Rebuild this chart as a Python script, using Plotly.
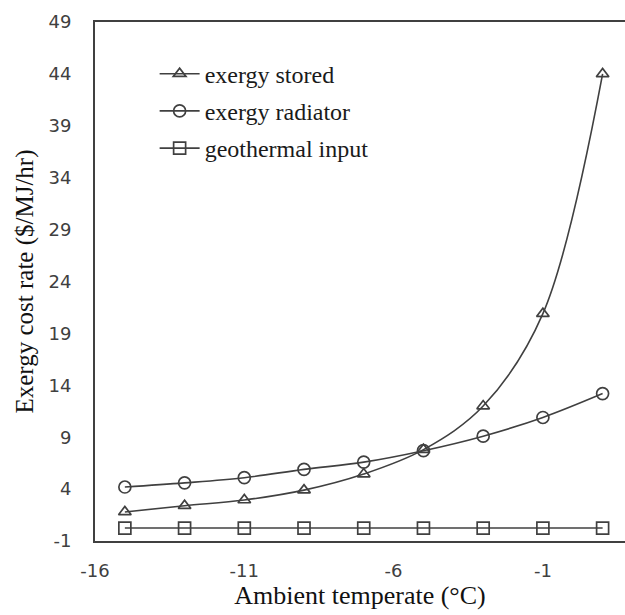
import plotly.graph_objects as go

# Data
temps = [-15, -13, -11, -9, -7, -5, -3, -1, 1]
exergy_stored = [1.8, 2.4, 2.95, 3.9, 5.45, 7.8, 12.0, 20.9, 44.0]
exergy_radiator = [4.2, 4.6, 5.1, 5.9, 6.6, 7.7, 9.1, 10.9, 13.2]
geothermal_input = [0.25, 0.25, 0.25, 0.25, 0.25, 0.25, 0.25, 0.25, 0.25]

x_ticks = [-16, -11, -6, -1]
y_ticks = [-1, 4, 9, 14, 19, 24, 29, 34, 39, 44, 49]

LINE = "#404040"
SERIF = "Liberation Serif"
SANS = "DejaVu Sans"

fig = go.Figure()
series = [
    ("exergy stored", exergy_stored, "triangle-up-open", 11, "spline"),
    ("exergy radiator", exergy_radiator, "circle-open", 12, "spline"),
    ("geothermal input", geothermal_input, "square-open", 12, "linear"),
]
for i, (name, vals, sym, size, shape) in enumerate(series):
    fig.add_trace(go.Scatter(
        x=temps, y=vals, name=name, mode="lines+markers",
        legendgroup=f"g{i}",
        line=dict(color=LINE, width=1.6, shape=shape),
        marker=dict(symbol=sym, size=size, color=LINE, line=dict(width=1.7, color=LINE)),
    ))

fig.update_layout(
    width=625, height=615,
    margin=dict(l=95, r=0, t=22, b=74),
    paper_bgcolor="white", plot_bgcolor="white",
    showlegend=True,
    legend=dict(
        x=0.1125, y=0.943, xanchor="left", yanchor="top",
        bgcolor="rgba(0,0,0,0)",
        font=dict(family=SERIF, size=24, color="#1a1a1a"),
        traceorder="grouped", tracegroupgap=3,
        itemwidth=40,
    ),
    font=dict(family=SANS, color="#404040"),
)
fig.update_xaxes(
    range=[-16, 1.75], tickvals=x_ticks, ticktext=[str(v) for v in x_ticks],
    showgrid=False, zeroline=False, showline=True, linecolor=LINE, linewidth=2,
    mirror=True, ticks="", ticklabelstandoff=12,
    tickfont=dict(family=SANS, size=18, color="#404040"),
    title=dict(text="Ambient temperate (°C)", font=dict(family=SERIF, size=26, color="#111111"), standoff=0),
)
fig.update_yaxes(
    range=[-1, 49], tickvals=y_ticks, ticktext=[str(v) for v in y_ticks],
    showgrid=False, zeroline=False, showline=True, linecolor=LINE, linewidth=2,
    mirror=False, ticks="", ticklabelstandoff=18,
    tickfont=dict(family=SANS, size=18, color="#404040"),
    title=dict(text="Exergy cost rate ($/MJ/hr)", font=dict(family=SERIF, size=25, color="#111111"), standoff=8),
)

fig.write_html("out.html")
